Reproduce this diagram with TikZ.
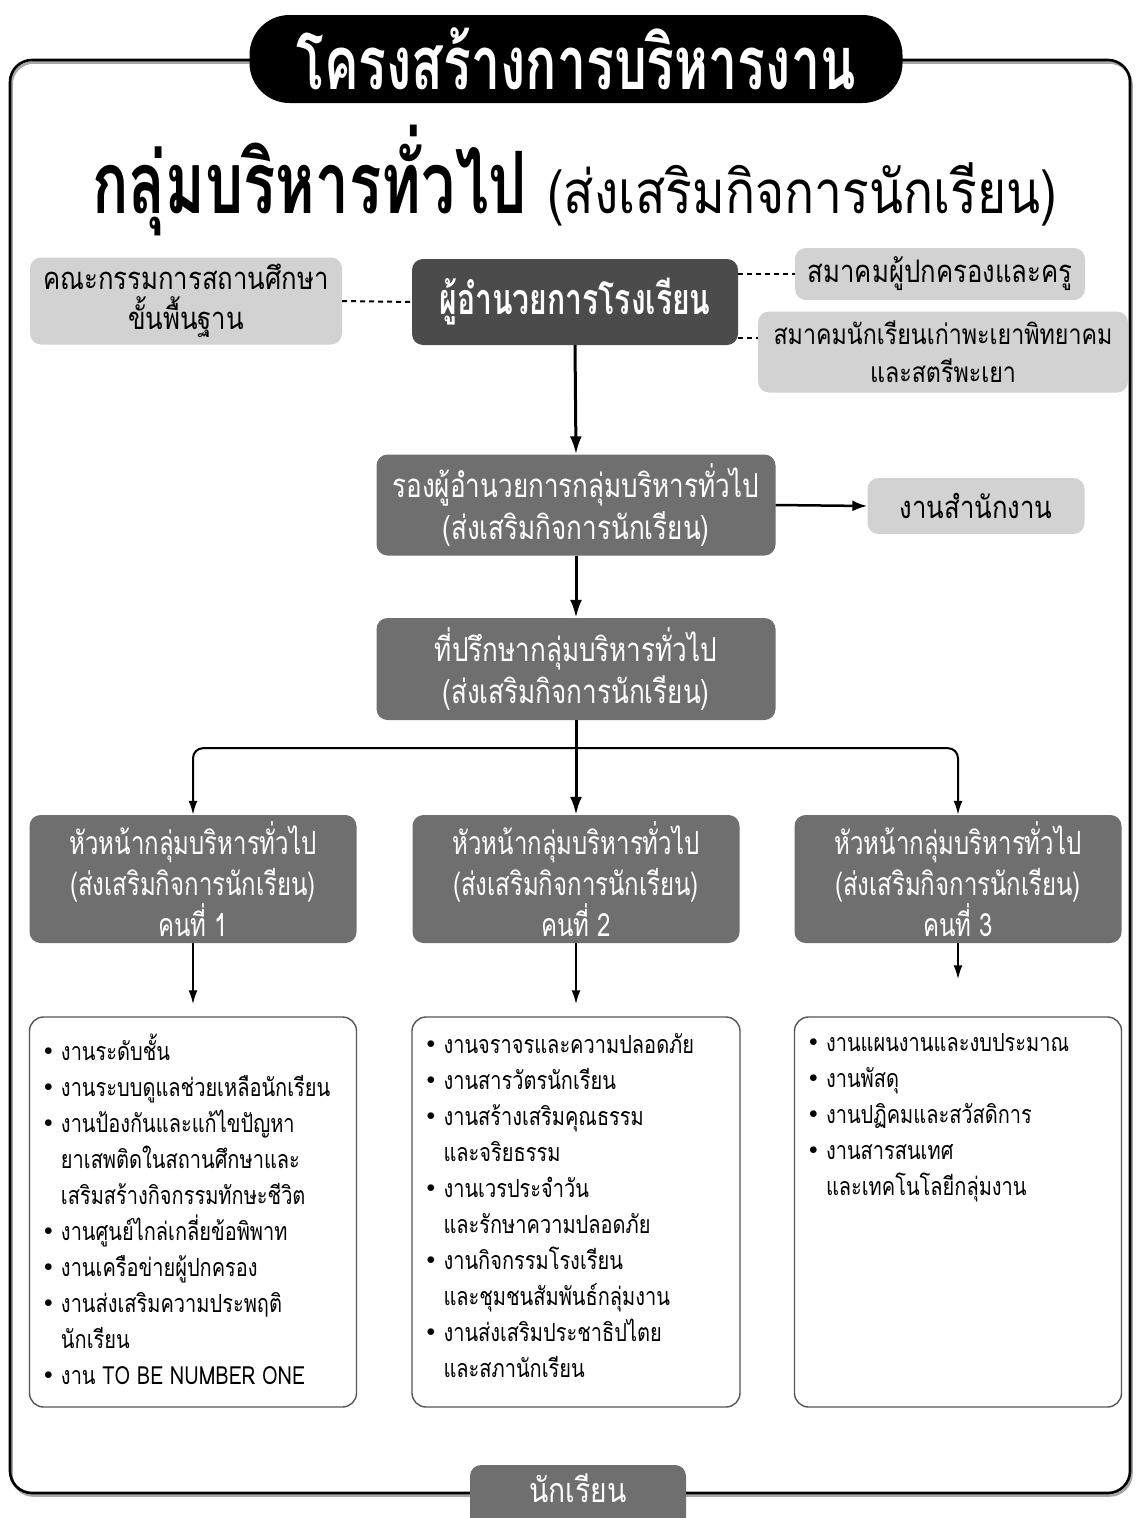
\documentclass[tikz,border=0pt]{standalone}
\usepackage{fontspec}
\usetikzlibrary{arrows.meta}
\newfontfamily\thl[Script=Thai,FakeStretch=0.80]{Loma}
\newfontfamily\thc[Script=Thai,FakeStretch=0.70]{Loma}
\newfontfamily\thm[Script=Thai,FakeStretch=0.79]{Loma}
\newfontfamily\thh[Script=Thai,FakeStretch=0.75]{Loma}
\newfontfamily\thw[Script=Thai,FakeStretch=0.83]{Loma}
\newcommand{\bul}{\makebox[17pt][l]{\raisebox{5pt}{\fontsize{16}{16}\selectfont$\bullet$}}}
\newcommand{\ind}{\hspace*{17pt}}
\definecolor{cdark}{HTML}{4B4B4B}
\definecolor{cmid}{HTML}{6F6F6F}
\definecolor{clight}{HTML}{D2D2D2}
\definecolor{cedge}{HTML}{555555}
\tikzset{
  boxbase/.style={rounded corners=11, inner sep=0pt, align=center},
  darkbox/.style={boxbase, fill=cdark, text=white, font=\thc\bfseries\fontsize{43}{48}\selectfont},
  midbox/.style={boxbase, fill=cmid, text=white, font=\thm\fontsize{33}{42}\selectfont},
  headbox/.style={boxbase, fill=cmid, text=white, font=\thh\fontsize{32}{41}\selectfont},
  lightbox/.style={boxbase, fill=clight, text=black, font=\thw\fontsize{31}{40}\selectfont},
  listbox/.style={rounded corners=14, draw=cedge, line width=1.4, fill=white, inner sep=0pt},
  listtext/.style={anchor=north west, align=left, inner sep=0pt, font=\thl\fontsize{25}{36}\selectfont},
  bigarr/.style={line width=3, -{Latex[length=18,width=12]}},
  smallarr/.style={line width=2, -{Latex[length=14,width=9]}},
  dashline/.style={line width=2, dash pattern=on 5 off 4}
}
\begin{document}
\begin{tikzpicture}[x=1pt,y=-1pt]
\useasboundingbox (0,0) rectangle (1138,1518);
% outer frame with a faint shadow
\draw[line width=2.6, rounded corners=22, draw=black!35] (11.5,62.5) rectangle (1131.5,1495.5);
\draw[line width=2.6, rounded corners=22] (10,60) rectangle (1130,1493);
% title
\node[fill=black, rounded corners=40, minimum width=653, minimum height=88, inner sep=0pt, text=white,
      font=\thc\bfseries\fontsize{74}{74}\selectfont] (title) at (576,59) {โครงสร้างการบริหารงาน};
% subtitle
\node[inner sep=0pt] (sub) at (575,180)
  {\thc\bfseries\fontsize{86}{86}\selectfont กลุ่มบริหารทั่วไป \thw\mdseries\fontsize{60}{60}\selectfont(ส่งเสริมกิจการนักเรียน)};
% top row
\node[lightbox, minimum width=312, minimum height=87] (board) at (186,301) {คณะกรรมการสถานศึกษา\\ขั้นพื้นฐาน};
\node[darkbox, minimum width=326, minimum height=86] (dir) at (575,302) {ผู้อำนวยการโรงเรียน};
\node[lightbox, minimum width=290, minimum height=52] (pta) at (940,274) {สมาคมผู้ปกครองและครู};
\node[lightbox, minimum width=370, minimum height=81, font=\thw\fontsize{28}{38}\selectfont] (alum) at (943,352) {สมาคมนักเรียนเก่าพะเยาพิทยาคม\\และสตรีพะเยา};
% second tier
\node[midbox, minimum width=399, minimum height=101] (dep) at (576,505) {รองผู้อำนวยการกลุ่มบริหารทั่วไป\\(ส่งเสริมกิจการนักเรียน)};
\node[lightbox, minimum width=217, minimum height=56] (office) at (976,506) {งานสำนักงาน};
\node[midbox, minimum width=399, minimum height=102] (adv) at (576,669) {ที่ปรึกษากลุ่มบริหารทั่วไป\\(ส่งเสริมกิจการนักเรียน)};
% heads
\node[headbox, minimum width=327, minimum height=128] (h1) at (193,879) {หัวหน้ากลุ่มบริหารทั่วไป\\(ส่งเสริมกิจการนักเรียน)\\คนที่ 1};
\node[headbox, minimum width=327, minimum height=128] (h2) at (576,879) {หัวหน้ากลุ่มบริหารทั่วไป\\(ส่งเสริมกิจการนักเรียน)\\คนที่ 2};
\node[headbox, minimum width=327, minimum height=128] (h3) at (958,879) {หัวหน้ากลุ่มบริหารทั่วไป\\(ส่งเสริมกิจการนักเรียน)\\คนที่ 3};
% lists
\node[listbox, minimum width=327, minimum height=390] (l1) at (193,1212) {};
\node[listbox, minimum width=328, minimum height=390] (l2) at (576,1212) {};
\node[listbox, minimum width=327, minimum height=390] (l3) at (958,1212) {};
\node[listtext] (t1) at ([xshift=15pt,yshift=-17pt]l1.north west) {%
\bul งานระดับชั้น\\
\bul งานระบบดูแลช่วยเหลือนักเรียน\\
\bul งานป้องกันและแก้ไขปัญหา\\
\ind ยาเสพติดในสถานศึกษาและ\\
\ind เสริมสร้างกิจกรรมทักษะชีวิต\\
\bul งานศูนย์ไกล่เกลี่ยข้อพิพาท\\
\bul งานเครือข่ายผู้ปกครอง\\
\bul งานส่งเสริมความประพฤติ\\
\ind นักเรียน\\
\bul งาน TO BE NUMBER ONE};
\node[listtext] (t2) at ([xshift=15pt,yshift=-17pt]l2.north west) {%
\bul งานจราจรและความปลอดภัย\\
\bul งานสารวัตรนักเรียน\\
\bul งานสร้างเสริมคุณธรรม\\
\ind และจริยธรรม\\
\bul งานเวรประจำวัน\\
\ind และรักษาความปลอดภัย\\
\bul งานกิจกรรมโรงเรียน\\
\ind และชุมชนสัมพันธ์กลุ่มงาน\\
\bul งานส่งเสริมประชาธิปไตย\\
\ind และสภานักเรียน};
\node[listtext] (t3) at ([xshift=15pt,yshift=-17pt]l3.north west) {%
\bul งานแผนงานและงบประมาณ\\
\bul งานพัสดุ\\
\bul งานปฏิคมและสวัสดิการ\\
\bul งานสารสนเทศ\\
\ind และเทคโนโลยีกลุ่มงาน};
% bottom student box
\node[boxbase, fill=cmid, minimum width=216, minimum height=66] (stu) at (578,1498) {};
\node[inner sep=0pt, text=white, font=\thw\fontsize{34}{34}\selectfont] (stut) at (578,1488) {นักเรียน};
% connectors
\draw[dashline] (board.east) -- (dir.west);
\draw[dashline] (dir.east |- pta.west) -- (pta.west);
\draw[dashline] ([yshift=14pt]dir.east |- alum.west) -- ([yshift=14pt]alum.west);
\draw[bigarr] (dir.south) -- (dep.north);
\draw[line width=2.5, -{Latex[length=15,width=11]}] (dep.east) -- (office.west);
\draw[bigarr] (dep.south) -- (adv.north);
\coordinate (br) at ([yshift=-28pt]adv.south);
\draw[bigarr] (adv.south) -- (h2.north);
\draw[smallarr, rounded corners=10] (br) -| (h1.north);
\draw[smallarr, rounded corners=10] (br) -| (h3.north);
\draw[smallarr, shorten >=12pt] (h1.south) -- (l1.north);
\draw[smallarr, shorten >=12pt] (h2.south) -- (l2.north);
\draw[smallarr, shorten >=37pt] (h3.south) -- (l3.north);
\end{tikzpicture}
\end{document}
